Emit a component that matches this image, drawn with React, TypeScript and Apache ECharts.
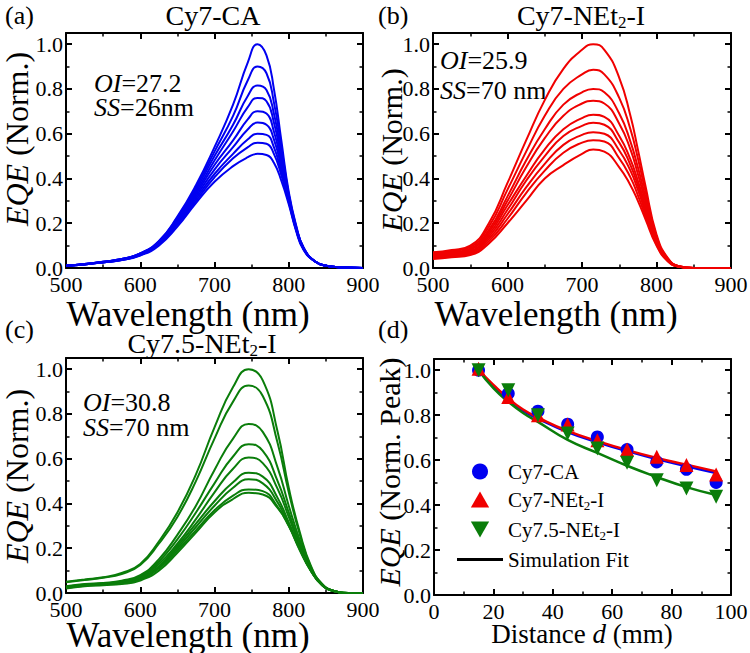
import { useEffect, useRef } from 'react';
import * as echarts from 'echarts';

// ---------- DATA ----------
const nmA = [500, 525, 550, 575, 600, 625, 650, 675, 700, 725, 745, 758, 770, 780, 790, 800, 810, 820, 835, 850, 875, 900];
const specA = [
  [0.010, 0.018, 0.028, 0.040, 0.065, 0.12, 0.23, 0.37, 0.54, 0.73, 0.92, 1.0, 0.95, 0.80, 0.57, 0.34, 0.19, 0.09, 0.03, 0.01, 0.002, 0],
  [0.010, 0.018, 0.028, 0.040, 0.065, 0.12, 0.225, 0.36, 0.52, 0.68, 0.84, 0.90, 0.87, 0.74, 0.54, 0.33, 0.185, 0.09, 0.03, 0.01, 0.002, 0],
  [0.010, 0.018, 0.028, 0.040, 0.065, 0.115, 0.22, 0.35, 0.50, 0.64, 0.77, 0.815, 0.795, 0.69, 0.51, 0.325, 0.18, 0.09, 0.03, 0.01, 0.002, 0],
  [0.010, 0.017, 0.027, 0.038, 0.062, 0.115, 0.215, 0.34, 0.48, 0.61, 0.72, 0.76, 0.745, 0.65, 0.49, 0.32, 0.18, 0.09, 0.03, 0.01, 0.002, 0],
  [0.010, 0.017, 0.027, 0.038, 0.062, 0.11, 0.21, 0.33, 0.46, 0.57, 0.665, 0.70, 0.69, 0.61, 0.47, 0.31, 0.175, 0.085, 0.03, 0.01, 0.002, 0],
  [0.010, 0.016, 0.026, 0.037, 0.060, 0.11, 0.205, 0.32, 0.44, 0.54, 0.62, 0.65, 0.64, 0.575, 0.45, 0.305, 0.175, 0.085, 0.03, 0.01, 0.002, 0],
  [0.010, 0.016, 0.025, 0.036, 0.058, 0.105, 0.20, 0.31, 0.42, 0.51, 0.575, 0.60, 0.595, 0.54, 0.43, 0.30, 0.17, 0.085, 0.03, 0.01, 0.002, 0],
  [0.010, 0.016, 0.025, 0.036, 0.058, 0.105, 0.195, 0.30, 0.405, 0.49, 0.54, 0.56, 0.555, 0.51, 0.415, 0.295, 0.17, 0.085, 0.03, 0.01, 0.002, 0],
  [0.010, 0.016, 0.025, 0.036, 0.056, 0.10, 0.185, 0.29, 0.385, 0.455, 0.495, 0.51, 0.505, 0.47, 0.39, 0.285, 0.165, 0.08, 0.03, 0.01, 0.002, 0],
];
const nmB = [500, 525, 550, 575, 600, 625, 650, 675, 700, 715, 730, 750, 765, 775, 785, 800, 815, 830, 850, 875, 900];
const specB = [
  [0.070, 0.080, 0.100, 0.20, 0.38, 0.57, 0.75, 0.89, 0.975, 1.0, 0.975, 0.85, 0.68, 0.53, 0.37, 0.15, 0.045, 0.008, 0, 0, 0],
  [0.065, 0.075, 0.093, 0.185, 0.35, 0.52, 0.68, 0.80, 0.865, 0.886, 0.865, 0.76, 0.62, 0.49, 0.345, 0.14, 0.043, 0.008, 0, 0, 0],
  [0.060, 0.070, 0.087, 0.17, 0.32, 0.48, 0.62, 0.73, 0.785, 0.80, 0.785, 0.69, 0.565, 0.45, 0.32, 0.135, 0.04, 0.008, 0, 0, 0],
  [0.057, 0.066, 0.082, 0.16, 0.30, 0.45, 0.58, 0.68, 0.735, 0.747, 0.735, 0.645, 0.53, 0.42, 0.30, 0.13, 0.04, 0.007, 0, 0, 0],
  [0.053, 0.062, 0.076, 0.15, 0.28, 0.41, 0.53, 0.62, 0.67, 0.685, 0.675, 0.59, 0.485, 0.39, 0.28, 0.12, 0.037, 0.007, 0, 0, 0],
  [0.050, 0.059, 0.072, 0.14, 0.26, 0.39, 0.50, 0.59, 0.635, 0.649, 0.64, 0.56, 0.46, 0.37, 0.265, 0.115, 0.035, 0.007, 0, 0, 0],
  [0.047, 0.055, 0.067, 0.13, 0.24, 0.36, 0.465, 0.55, 0.595, 0.607, 0.60, 0.525, 0.435, 0.35, 0.25, 0.11, 0.034, 0.006, 0, 0, 0],
  [0.044, 0.051, 0.062, 0.12, 0.22, 0.335, 0.435, 0.515, 0.56, 0.571, 0.565, 0.49, 0.405, 0.325, 0.235, 0.105, 0.032, 0.006, 0, 0, 0],
  [0.040, 0.048, 0.058, 0.11, 0.20, 0.30, 0.40, 0.46, 0.51, 0.53, 0.52, 0.45, 0.37, 0.30, 0.22, 0.10, 0.03, 0.006, 0, 0, 0],
];
const nmC = [500, 525, 550, 575, 600, 625, 650, 675, 700, 725, 746, 765, 785, 800, 815, 830, 845, 860, 880, 900];
const specC = [
  [0.050, 0.060, 0.070, 0.090, 0.13, 0.23, 0.36, 0.53, 0.74, 0.92, 1.0, 0.95, 0.72, 0.47, 0.27, 0.12, 0.04, 0.01, 0, 0],
  [0.048, 0.058, 0.068, 0.085, 0.125, 0.22, 0.34, 0.50, 0.69, 0.855, 0.927, 0.88, 0.67, 0.45, 0.26, 0.115, 0.04, 0.01, 0, 0],
  [0.030, 0.040, 0.045, 0.055, 0.080, 0.15, 0.26, 0.39, 0.55, 0.69, 0.755, 0.72, 0.56, 0.39, 0.235, 0.11, 0.038, 0.01, 0, 0],
  [0.028, 0.038, 0.043, 0.052, 0.075, 0.14, 0.24, 0.36, 0.49, 0.61, 0.665, 0.635, 0.50, 0.36, 0.22, 0.105, 0.037, 0.01, 0, 0],
  [0.027, 0.036, 0.042, 0.050, 0.072, 0.13, 0.22, 0.33, 0.45, 0.555, 0.605, 0.58, 0.465, 0.34, 0.21, 0.10, 0.036, 0.01, 0, 0],
  [0.026, 0.035, 0.040, 0.048, 0.068, 0.12, 0.21, 0.31, 0.41, 0.495, 0.537, 0.52, 0.425, 0.315, 0.20, 0.10, 0.035, 0.009, 0, 0],
  [0.025, 0.034, 0.039, 0.046, 0.065, 0.115, 0.20, 0.295, 0.39, 0.47, 0.508, 0.49, 0.405, 0.305, 0.195, 0.098, 0.035, 0.009, 0, 0],
  [0.022, 0.032, 0.037, 0.043, 0.060, 0.11, 0.19, 0.28, 0.37, 0.435, 0.463, 0.455, 0.385, 0.30, 0.19, 0.097, 0.035, 0.009, 0, 0],
  [0.020, 0.030, 0.035, 0.040, 0.056, 0.10, 0.18, 0.27, 0.36, 0.42, 0.448, 0.44, 0.38, 0.30, 0.195, 0.10, 0.036, 0.009, 0, 0],
];
const distance = [15, 25, 35, 45, 55, 65, 75, 85, 95];
const peakCA = [1.0, 0.896, 0.818, 0.76, 0.703, 0.647, 0.592, 0.559, 0.501];
const peakNEt = [1.007, 0.881, 0.80, 0.759, 0.689, 0.647, 0.615, 0.578, 0.536];
const peak75 = [1.0, 0.911, 0.80, 0.719, 0.652, 0.588, 0.511, 0.474, 0.437];
const fitX = [15, 20, 25, 30, 35, 45, 55, 65, 75, 85, 95];
const fitCA = [1.0, 0.93, 0.87, 0.82, 0.785, 0.725, 0.68, 0.64, 0.605, 0.573, 0.543];
const fitNEt = [1.0, 0.935, 0.875, 0.825, 0.79, 0.73, 0.685, 0.645, 0.61, 0.58, 0.55];
const fit75 = [1.0, 0.92, 0.86, 0.81, 0.77, 0.69, 0.632, 0.575, 0.525, 0.48, 0.445];
const legendNames = ['Cy7-CA', 'Cy7-NEt2-I', 'Cy7.5-NEt2-I', 'Simulation Fit'];

// ---------- STYLE ----------
const FONT = 'Liberation Serif';
const BLUE = '#0000f0';
const RED = '#f00000';
const GREEN = '#0a7d0a';

const subRich = (size: number, pad: number, lh?: number) => ({
  a: { fontFamily: FONT, fontSize: size, color: '#000', lineHeight: lh },
  s: { fontFamily: FONT, fontSize: Math.round(size * 0.62), color: '#000', verticalAlign: 'top', padding: [pad, 0, 0, 0] },
  i: { fontFamily: FONT, fontSize: size, color: '#000', fontStyle: 'italic', lineHeight: lh },
});
const subName = (n: string) => '{a|' + n.replace('NEt2', 'NEt}{s|2}{a|') + '}';

const axisCommon = {
  axisLine: { show: true, onZero: false, lineStyle: { color: '#000', width: 2 } },
  axisTick: { show: true, inside: true, length: 6, lineStyle: { color: '#000', width: 2 } },
  minorTick: { show: true, splitNumber: 2, length: 3.5, lineStyle: { color: '#000', width: 1.5 } },
  splitLine: { show: false }, minorSplitLine: { show: false },
};

function xAxisPair(gi: number, min: number, max: number, interval: number) {
  const base = { type: 'value', gridIndex: gi, min, max, interval, ...axisCommon };
  return [
    { ...base, position: 'bottom', axisLabel: { show: true, fontFamily: FONT, fontSize: 22, lineHeight: 20, color: '#000', margin: 6 } },
    { ...base, position: 'top', axisLabel: { show: false } },
  ];
}

function yAxisPair(gi: number) {
  const base = { type: 'value', gridIndex: gi, min: 0, max: 1.05, interval: 0.2, ...axisCommon };
  return [
    {
      ...base, position: 'left',
      axisLabel: {
        show: true, fontFamily: FONT, fontSize: 22, color: '#000', margin: 3,
        formatter: (v: number) => (Math.abs(v / 0.2 - Math.round(v / 0.2)) < 1e-6 ? v.toFixed(1) : ''),
      },
    },
    { ...base, position: 'right', axisLabel: { show: false } },
  ];
}

function spectraSeries(gi: number, nm: number[], spec: number[][], color: string, tag: string) {
  return spec.map((vals, k) => ({
    type: 'line', name: `${tag}${k + 1}`, xAxisIndex: gi * 2, yAxisIndex: gi * 2,
    data: nm.map((x, i) => [x, vals[i]]),
    smooth: true, showSymbol: false, symbol: 'none',
    lineStyle: { color, width: 2 }, itemStyle: { color },
  }));
}

function textEl(x: number, y: number, text: string, size: number, align: string, rich?: any, rotation = 0) {
  return {
    type: 'text', x, y, rotation,
    style: { text, fontFamily: FONT, fontSize: size, fill: '#000', align, verticalAlign: 'middle', rich },
  };
}

export default function App() {
  const ref = useRef<HTMLDivElement>(null);
  useEffect(() => {
    if (!ref.current) return;
    const chart = echarts.init(ref.current, null, { renderer: 'svg' });
    const grids = [
      { left: 66, top: 33, width: 297, height: 235, outerBoundsMode: 'none', containLabel: false },
      { left: 433, top: 33, width: 298, height: 235, outerBoundsMode: 'none', containLabel: false },
      { left: 66, top: 358, width: 297, height: 235, outerBoundsMode: 'none', containLabel: false },
      { left: 434, top: 359, width: 297, height: 236, outerBoundsMode: 'none', containLabel: false },
    ];
    const xAxes = [
      ...xAxisPair(0, 500, 900, 100),
      ...xAxisPair(1, 500, 900, 100),
      ...xAxisPair(2, 500, 900, 100),
      ...xAxisPair(3, 0, 100, 20),
    ];
    const yAxes = [...yAxisPair(0), ...yAxisPair(1), ...yAxisPair(2), ...yAxisPair(3)];

    const scatterD = [
      { name: legendNames[0], data: peakCA, color: BLUE, symbol: 'circle', size: 13, rot: 0 },
      { name: legendNames[1], data: peakNEt, color: RED, symbol: 'triangle', size: 14, rot: 0 },
      { name: legendNames[2], data: peak75, color: GREEN, symbol: 'triangle', size: 14, rot: 180 },
    ];
    const fits = [
      { data: fitCA, color: BLUE },
      { data: fitNEt, color: RED },
      { data: fit75, color: GREEN },
    ];
    const series: any[] = [
      ...spectraSeries(0, nmA, specA, BLUE, 'a'),
      ...spectraSeries(1, nmB, specB, RED, 'b'),
      ...spectraSeries(2, nmC, specC, GREEN, 'c'),
      ...fits.map((f, k) => ({
        type: 'line', name: `fit${k}`, xAxisIndex: 6, yAxisIndex: 6,
        data: fitX.map((x, i) => [x, f.data[i]]),
        smooth: true, showSymbol: false, symbol: 'none',
        lineStyle: { color: f.color, width: 2.5 }, itemStyle: { color: f.color }, z: 2,
      })),
      ...scatterD.map((s) => ({
        type: 'scatter', name: s.name, xAxisIndex: 6, yAxisIndex: 6,
        data: distance.map((x, i) => [x, s.data[i]]),
        symbol: s.symbol, symbolSize: s.size, symbolRotate: s.rot,
        itemStyle: { color: s.color, opacity: 1 }, z: 3,
      })),
      {
        type: 'line', name: legendNames[3], xAxisIndex: 6, yAxisIndex: 6, data: [],
        lineStyle: { color: '#000', width: 3 }, itemStyle: { color: '#000' },
      },
    ];
    const legendRich = {
      a: { fontFamily: FONT, fontSize: 21, color: '#000' },
      s: { fontFamily: FONT, fontSize: 13, color: '#000', verticalAlign: 'top', padding: [12, 0, 0, 0] },
    };
    const V = Math.PI / 2;
    const option: any = {
      animation: false,
      backgroundColor: '#fff',
      textStyle: { fontFamily: FONT },
      grid: grids,
      xAxis: xAxes,
      yAxis: yAxes,
      legend: {
        orient: 'vertical', left: 452, top: 456,
        itemWidth: 46, itemHeight: 16, itemGap: 7, selectedMode: false,
        data: [
          { name: legendNames[0], icon: 'circle' },
          { name: legendNames[1], icon: 'path://M8,0 L16,14 L0,14 Z' },
          { name: legendNames[2], icon: 'path://M0,0 L16,0 L8,14 Z' },
          { name: legendNames[3], icon: 'path://M0,0 L46,0 L46,3 L0,3 Z' },
        ],
        formatter: (n: string) => subName(n),
        textStyle: { fontFamily: FONT, fontSize: 21, color: '#000', rich: legendRich },
      },
      graphic: [
        textEl(5, 15, '(a)', 26, 'left'),
        textEl(378, 15, '(b)', 26, 'left'),
        textEl(5, 329, '(c)', 26, 'left'),
        textEl(378, 329, '(d)', 26, 'left'),
        textEl(213, 15, '{a|Cy7-CA}', 28, 'center', subRich(28, 15)),
        textEl(581, 15, '{a|Cy7-NEt}{s|2}{a|-I}', 28, 'center', subRich(28, 15)),
        textEl(202, 343, '{a|Cy7.5-NEt}{s|2}{a|-I}', 28, 'center', subRich(28, 15, 24)),
        textEl(94, 83, '{i|OI}{a|=27.2}', 26, 'left', subRich(26, 14, 22)),
        textEl(94, 107, '{i|SS}{a|=26nm}', 26, 'left', subRich(26, 14, 22)),
        textEl(440, 60, '{i|OI}{a|=25.9}', 26, 'left', subRich(26, 14, 22)),
        textEl(440, 90, '{i|SS}{a|=70 nm}', 26, 'left', subRich(26, 14, 22)),
        textEl(83, 402, '{i|OI}{a|=30.8}', 26, 'left', subRich(26, 14, 22)),
        textEl(83, 427, '{i|SS}{a|=70 nm}', 26, 'left', subRich(26, 14, 22)),
        // axis titles
        textEl(188, 314, '{a|Wavelength (nm)}', 35, 'center', subRich(35, 0, 26)),
        textEl(556, 314, '{a|Wavelength (nm)}', 35, 'center', subRich(35, 0, 26)),
        textEl(188, 635, '{a|Wavelength (nm)}', 35, 'center', subRich(35, 0, 26)),
        textEl(582, 634, '{a|Distance }{i|d}{a| (mm)}', 27, 'center', subRich(27, 0, 22)),
        textEl(17, 139, '{i|EQE}{a| (Norm.)}', 32, 'center', subRich(32, 0, 26), V),
        textEl(391, 150, '{i|EQE}{a| (Norm.)}', 30, 'center', subRich(30, 0, 24), V),
        textEl(17, 476, '{i|EQE}{a| (Norm.)}', 32, 'center', subRich(32, 0, 26), V),
        textEl(389, 472, '{i|EQE}{a| (Norm. Peak)}', 30, 'center', subRich(30, 0, 24), V),
      ],
      series,
    };
    chart.setOption(option);
    return () => chart.dispose();
  }, []);
  return <div ref={ref} style={{ position: 'fixed', left: 0, top: 0, width: 750, height: 653, background: '#fff' }} />;
}
